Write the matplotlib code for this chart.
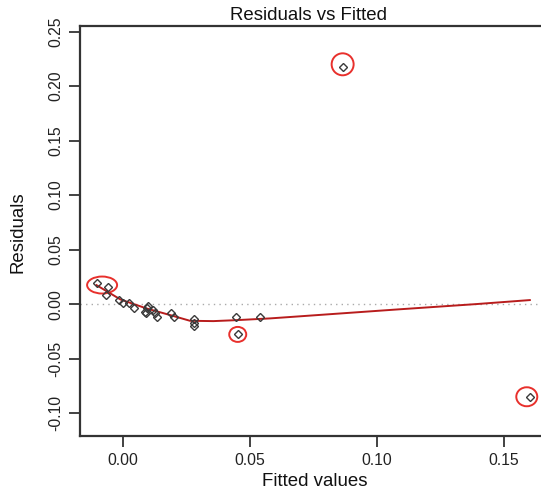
import numpy as np
import matplotlib.pyplot as plt
from matplotlib.patches import Ellipse

plt.rcParams['font.family'] = ['Liberation Sans', 'DejaVu Sans']

# fitted values and residuals
fitted = [-0.0104, -0.0060, -0.0068, -0.0016, 0.0001, 0.0024, 0.0045,
          0.0087, 0.0093, 0.0100, 0.0090, 0.0119, 0.0126, 0.0133,
          0.0189, 0.0202, 0.0281, 0.0280, 0.0280, 0.0444, 0.0452,
          0.0539, 0.0865, 0.1602]
resid = [0.0190, 0.0159, 0.0083, 0.0037, 0.0012, 0.0006, -0.0034,
         -0.0070, -0.0040, -0.0020, -0.0086, -0.0055, -0.0086, -0.0122,
         -0.0086, -0.0122, -0.0138, -0.0177, -0.0200, -0.0122, -0.0278,
         -0.0122, 0.2177, -0.0850]

# red smoother
smooth_x = [-0.0104, -0.0010, 0.0093, 0.0185, 0.0264, 0.0356, 0.0448,
            0.0580, 0.0660, 0.1080, 0.1390, 0.1602]
smooth_y = [0.0174, 0.0043, -0.0040, -0.0100, -0.0153, -0.0156, -0.0147,
            -0.0131, -0.0118, -0.0049, 0.0000, 0.0037]

# highlighted cases: (x, y, width px, height px)
marks = [(-0.0082, 0.0175, 30, 17),
         (0.0452, -0.0278, 17, 15),
         (0.0865, 0.2200, 22, 22),
         (0.1590, -0.0850, 21, 19)]

xticks = [0.00, 0.05, 0.10, 0.15]
yticks = [-0.10, -0.05, 0.00, 0.05, 0.10, 0.15, 0.20, 0.25]

W, H = 541, 492
AW, AH = 490, 410  # axes size in px; right edge falls outside the image
fig = plt.figure(figsize=(W / 100, H / 100), dpi=100)
ax = fig.add_axes([80 / W, 1 - 436 / H, AW / W, AH / H])

xlim = (-0.0169, -0.0169 + AW / 2540)
ylim = (-0.1210, -0.1210 + AH / 1090)
ax.set_xlim(*xlim)
ax.set_ylim(*ylim)

ax.axhline(0, color='#aaaaaa', ls=(0, (1, 3)), lw=1)
ax.plot(smooth_x, smooth_y, color='#b81c1c', lw=1.4)
ax.plot(fitted, resid, ls='none', marker='D', ms=3.6, mfc='none',
        mec='#3a3a3a', mew=1.0)

px_x = (xlim[1] - xlim[0]) / AW
px_y = (ylim[1] - ylim[0]) / AH
for x, y, wp, hp in marks:
    ax.add_patch(Ellipse((x, y), wp * px_x, hp * px_y, fill=False,
                         ec='#e8302c', lw=1.4, clip_on=False))

ax.set_xticks(xticks)
ax.set_xticklabels([f'{v:.2f}' for v in xticks])
ax.set_yticks(yticks)
ax.set_yticklabels([f'{v:.2f}' for v in yticks], rotation=90, va='center')
ax.tick_params(length=8, width=1.2, color='#222222', labelsize=11.3,
               labelcolor='#222222', pad=4)
for s in ax.spines.values():
    s.set_linewidth(1.6)
    s.set_color('#333333')
ax.spines['right'].set_visible(False)

fig.text(308 / W, 1 - 15 / H, 'Residuals vs Fitted', ha='center',
         va='center', fontsize=13.4, color='#111111')
fig.text(315 / W, 1 - 482 / H, 'Fitted values', ha='center',
         va='center', fontsize=13.4, color='#111111')
fig.text(18 / W, 1 - 232 / H, 'Residuals', ha='center', va='center',
         rotation=90, fontsize=13.4, color='#111111')

fig.savefig('out.png', dpi=100)
